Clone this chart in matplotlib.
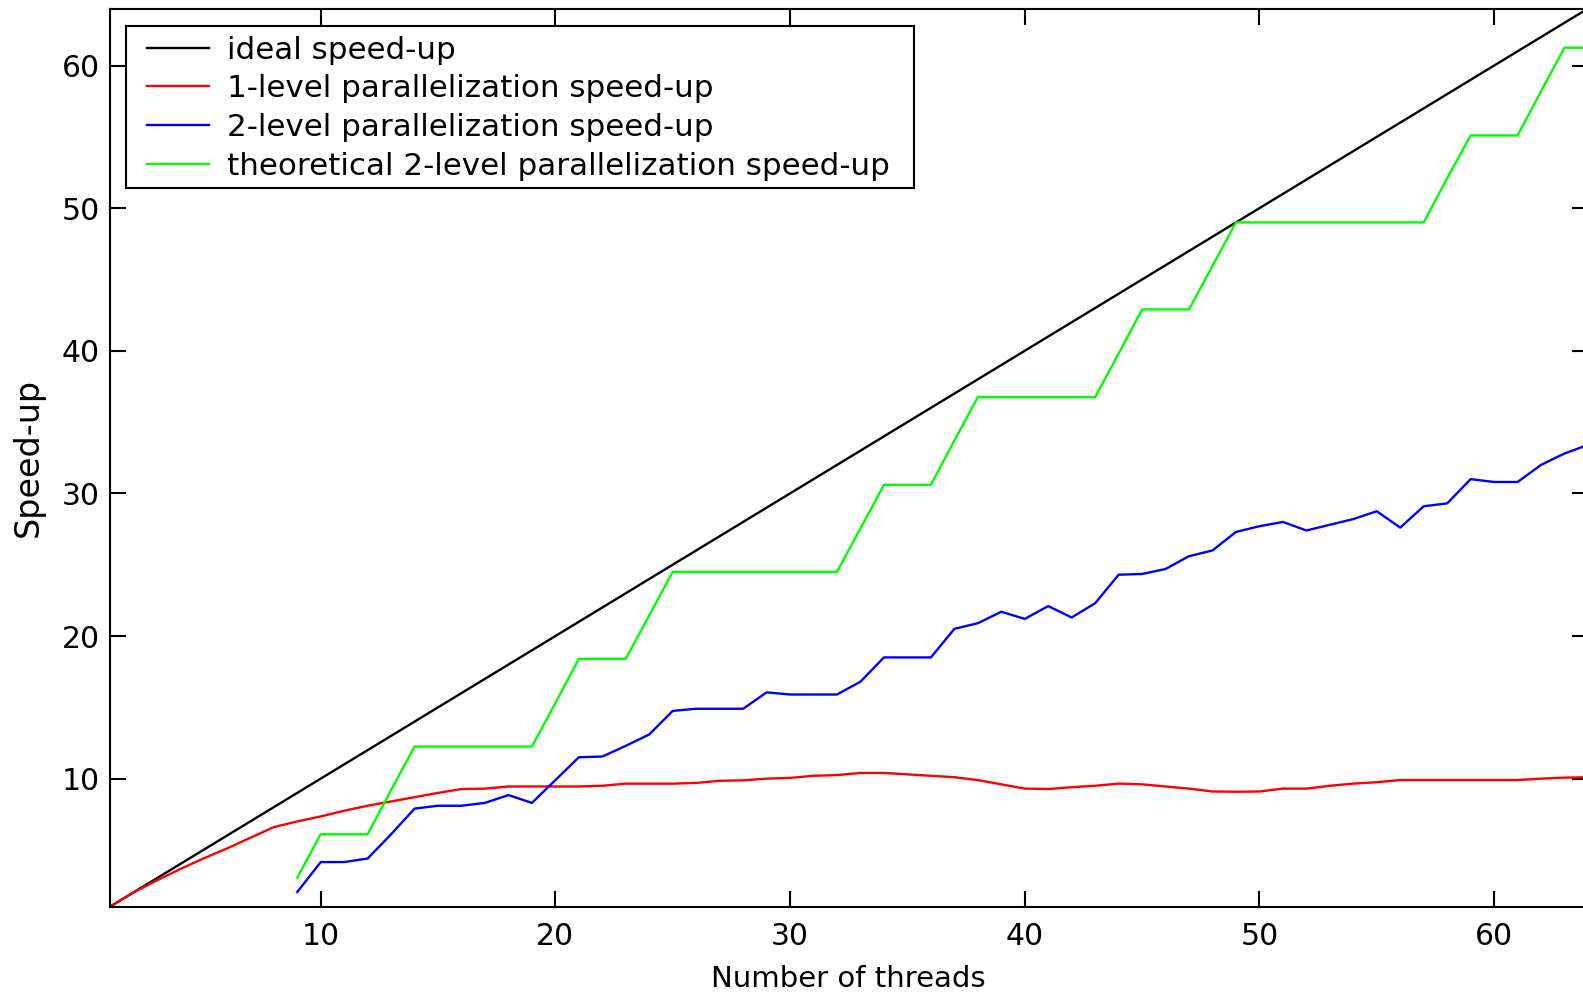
import matplotlib
matplotlib.use("Agg")
import matplotlib.pyplot as plt
from matplotlib.patches import Rectangle

# ---- data ----
threads = list(range(1, 65))
ideal = [float(t) for t in threads]

one_level = [1.0, 2.0, 2.85, 3.65, 4.4, 5.1, 5.85, 6.6, 7.0, 7.35,
             7.75, 8.1, 8.4, 8.7, 9.0, 9.27, 9.3, 9.45, 9.45, 9.45,
             9.45, 9.5, 9.65, 9.65, 9.65, 9.7, 9.85, 9.88, 10.0, 10.05,
             10.2, 10.25, 10.4, 10.4, 10.3, 10.2, 10.1, 9.9, 9.6, 9.3,
             9.27, 9.4, 9.5, 9.65, 9.6, 9.45, 9.3, 9.1, 9.08, 9.1,
             9.3, 9.3, 9.5, 9.65, 9.75, 9.9, 9.9, 9.9, 9.9, 9.9,
             9.9, 10.0, 10.07, 10.1]

two_threads = list(range(9, 65))
two_level = [2.05, 4.15, 4.15, 4.4, 6.1, 7.9, 8.1, 8.1, 8.3, 8.85,
             8.3, 9.9, 11.5, 11.55, 12.3, 13.1, 14.75, 14.9, 14.9, 14.9,
             16.05, 15.9, 15.9, 15.9, 16.8, 18.5, 18.5, 18.5, 20.5, 20.9,
             21.7, 21.2, 22.1, 21.3, 22.3, 24.3, 24.35, 24.7, 25.6, 26.0,
             27.3, 27.7, 28.0, 27.4, 27.8, 28.2, 28.75, 27.6, 29.1, 29.3,
             31.0, 30.8, 30.8, 32.0, 32.8, 33.4]

theoretical = [3.05, 6.1, 6.1, 6.1, 9.2, 12.25, 12.25, 12.25, 12.25, 12.25,
               12.25, 15.3, 18.4, 18.4, 18.4, 21.45, 24.5, 24.5, 24.5, 24.5,
               24.5, 24.5, 24.5, 24.5, 27.55, 30.6, 30.6, 30.6, 33.7, 36.75,
               36.75, 36.75, 36.75, 36.75, 36.75, 39.8, 42.9, 42.9, 42.9, 45.95,
               49.0, 49.0, 49.0, 49.0, 49.0, 49.0, 49.0, 49.0, 49.0, 52.1,
               55.1, 55.1, 55.1, 58.2, 61.25, 61.25]

xticks = [10, 20, 30, 40, 50, 60]
yticks = [10, 20, 30, 40, 50, 60]
labels = ["ideal speed-up", "1-level parallelization speed-up",
          "2-level parallelization speed-up",
          "theoretical 2-level parallelization speed-up"]

plt.rcParams['font.family'] = ['DejaVu Sans']

W, H = 1583, 994
fig = plt.figure(figsize=(W / 100, H / 100), dpi=100)
left, right = 109.5, 1588.0
top, bottom = 8.5, 907.0
ax = fig.add_axes([left / W, (H - bottom) / H, (right - left) / W, (bottom - top) / H])

lw = 1.7
ax.plot(threads, ideal, color='black', lw=lw, label=labels[0])
ax.plot(threads, one_level, color='#ff0000', lw=lw, label=labels[1])
ax.plot(two_threads, two_level, color='#0000ff', lw=lw, label=labels[2])
ax.plot(two_threads, theoretical, color='#00ff00', lw=lw, label=labels[3])

ax.set_xlim(1, 64)
ax.set_ylim(1, 64)
ax.set_xticks(xticks)
ax.set_yticks(yticks)
ax.tick_params(direction='in', top=True, right=True, length=11.5, width=1.5,
               labelsize=21.5, color='black')
ax.tick_params(axis='x', pad=11)
ax.tick_params(axis='y', pad=7)
for s in ax.spines.values():
    s.set_linewidth(1.5)
    s.set_color('black')

ax.set_xlabel("Number of threads", fontsize=21, labelpad=10)
ax.set_ylabel("Speed-up", fontsize=24, labelpad=12)

# legend frame drawn as an explicit box (inside the axes' artist list)
bx0, by0, bx1, by1 = 126.2, 26.2, 913.7, 187.8
frame = Rectangle((bx0 / W, 1 - by1 / H), (bx1 - bx0) / W, (by1 - by0) / H,
                  transform=fig.transFigure, facecolor='white',
                  edgecolor='black', linewidth=1.5, zorder=4.9, clip_on=False)
ax.add_patch(frame)

leg = ax.legend(loc='upper left', bbox_to_anchor=(146.8 / W, 1 - 35.7 / H),
                bbox_transform=fig.transFigure, borderaxespad=0, borderpad=0,
                fontsize=22.3, frameon=False, handlelength=2.02,
                handletextpad=0.57, labelspacing=0.31)
leg.set_zorder(5)

fig.savefig("out.png", dpi=100)
